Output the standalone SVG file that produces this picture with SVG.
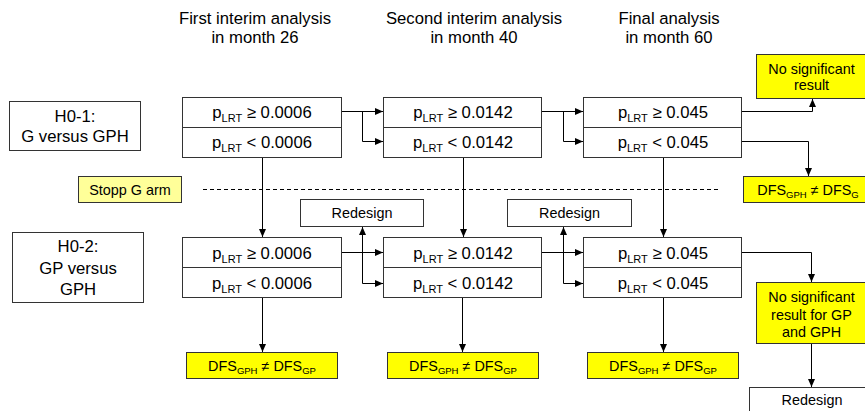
<svg xmlns="http://www.w3.org/2000/svg" width="865" height="411" viewBox="0 0 865 411">
<defs>
<marker id="ah" markerWidth="8" markerHeight="8" refX="8" refY="3.5" orient="auto" markerUnits="userSpaceOnUse">
<path d="M0,0 L8,3.5 L0,7 z" fill="#000"/>
</marker>
<style>
text{font-family:"Liberation Sans",Arial,sans-serif;fill:#000;text-anchor:middle}
.h{font-size:16.7px}
.p{font-size:16.7px}
.s{font-size:14.4px}
.sub{font-size:11px}
.sub2{font-size:9.5px}
.box{fill:#fff;stroke:#333;stroke-width:1}
.yel{fill:#ffff00;stroke:#333;stroke-width:1}
.lyel{fill:#ffff99;stroke:#333;stroke-width:1}
.c{fill:none;stroke:#000;stroke-width:1}
.cm{fill:none;stroke:#000;stroke-width:1;marker-end:url(#ah)}
</style>
</defs>
<rect width="865" height="411" fill="#fff"/>

<g id="headers">
<text class="h" x="255" y="24">First interim analysis</text>
<text class="h" x="255" y="43">in month 26</text>
<text class="h" x="474" y="24">Second interim analysis</text>
<text class="h" x="474" y="43">in month 40</text>
<text class="h" x="669" y="24">Final analysis</text>
<text class="h" x="669" y="43">in month 60</text>
</g>

<g id="h01">
<rect class="box" x="9.5" y="101.5" width="131" height="49"/>
<text class="h" x="75" y="122">H0-1:</text>
<text class="h" x="75" y="141.5">G versus GPH</text>
</g>

<g id="h02">
<rect class="box" x="12.5" y="232.5" width="131" height="70"/>
<text class="h" x="78" y="252">H0-2:</text>
<text class="h" x="78" y="273.5">GP versus</text>
<text class="h" x="78" y="295">GPH</text>
</g>

<g id="stopp">
<rect class="lyel" x="78.5" y="176.5" width="103" height="26"/>
<text class="s" x="130" y="195">Stopp G arm</text>
</g>

<line x1="203" y1="189.5" x2="718" y2="189.5" stroke="#000" stroke-width="1" stroke-dasharray="4,3"/>

<g id="t1">
<rect class="box" x="182.5" y="97.5" width="159" height="30"/>
<rect class="box" x="182.5" y="127.5" width="159" height="30"/>
<text class="p" x="262" y="118">p<tspan class="sub" dy="4">LRT</tspan><tspan dy="-4"> ≥ 0.0006</tspan></text>
<text class="p" x="262" y="148">p<tspan class="sub" dy="4">LRT</tspan><tspan dy="-4"> &lt; 0.0006</tspan></text>
</g>
<g id="t2">
<rect class="box" x="383.5" y="97.5" width="158" height="30"/>
<rect class="box" x="383.5" y="127.5" width="158" height="30"/>
<text class="p" x="463" y="118">p<tspan class="sub" dy="4">LRT</tspan><tspan dy="-4"> ≥ 0.0142</tspan></text>
<text class="p" x="463" y="148">p<tspan class="sub" dy="4">LRT</tspan><tspan dy="-4"> &lt; 0.0142</tspan></text>
</g>
<g id="t3">
<rect class="box" x="583.5" y="97.5" width="158" height="30"/>
<rect class="box" x="583.5" y="127.5" width="158" height="30"/>
<text class="p" x="663" y="118">p<tspan class="sub" dy="4">LRT</tspan><tspan dy="-4"> ≥ 0.045</tspan></text>
<text class="p" x="663" y="148">p<tspan class="sub" dy="4">LRT</tspan><tspan dy="-4"> &lt; 0.045</tspan></text>
</g>

<g id="b1">
<rect class="box" x="182.5" y="237.5" width="159" height="30"/>
<rect class="box" x="182.5" y="267.5" width="159" height="30"/>
<text class="p" x="262" y="259">p<tspan class="sub" dy="4">LRT</tspan><tspan dy="-4"> ≥ 0.0006</tspan></text>
<text class="p" x="262" y="289">p<tspan class="sub" dy="4">LRT</tspan><tspan dy="-4"> &lt; 0.0006</tspan></text>
</g>
<g id="b2">
<rect class="box" x="383.5" y="237.5" width="158" height="30"/>
<rect class="box" x="383.5" y="267.5" width="158" height="30"/>
<text class="p" x="463" y="259">p<tspan class="sub" dy="4">LRT</tspan><tspan dy="-4"> ≥ 0.0142</tspan></text>
<text class="p" x="463" y="289">p<tspan class="sub" dy="4">LRT</tspan><tspan dy="-4"> &lt; 0.0142</tspan></text>
</g>
<g id="b3">
<rect class="box" x="583.5" y="237.5" width="158" height="30"/>
<rect class="box" x="583.5" y="267.5" width="158" height="30"/>
<text class="p" x="663" y="259">p<tspan class="sub" dy="4">LRT</tspan><tspan dy="-4"> ≥ 0.045</tspan></text>
<text class="p" x="663" y="289">p<tspan class="sub" dy="4">LRT</tspan><tspan dy="-4"> &lt; 0.045</tspan></text>
</g>

<g id="redesign1">
<rect class="box" x="300.5" y="199.5" width="123" height="27"/>
<text class="s" x="362" y="218">Redesign</text>
</g>
<g id="redesign2">
<rect class="box" x="507.5" y="199.5" width="124" height="27"/>
<text class="s" x="569.5" y="218">Redesign</text>
</g>
<g id="redesign3">
<rect class="box" x="749.5" y="387.5" width="125" height="30"/>
<text class="s" x="812" y="405">Redesign</text>
</g>

<g id="nosig1">
<rect class="yel" x="756.5" y="54.5" width="110" height="44"/>
<text class="s" x="811.5" y="74">No significant</text>
<text class="s" x="811.5" y="90">result</text>
</g>
<g id="dfsg">
<rect class="yel" x="743.5" y="176.5" width="130" height="26"/>
<text class="s" x="808" y="195">DFS<tspan class="sub2" dy="3">GPH</tspan><tspan dy="-3"> ≠ DFS</tspan><tspan class="sub2" dy="3">G</tspan></text>
</g>
<g id="nosig2">
<rect class="yel" x="756.5" y="282.5" width="111" height="61"/>
<text class="s" x="811.5" y="302">No significant</text>
<text class="s" x="811.5" y="319.5">result for GP</text>
<text class="s" x="811.5" y="337">and GPH</text>
</g>
<g id="dfs1">
<rect class="yel" x="186.5" y="352.5" width="151" height="26"/>
<text class="s" x="262" y="371">DFS<tspan class="sub2" dy="3">GPH</tspan><tspan dy="-3"> ≠ DFS</tspan><tspan class="sub2" dy="3">GP</tspan></text>
</g>
<g id="dfs2">
<rect class="yel" x="387.5" y="352.5" width="151" height="26"/>
<text class="s" x="463" y="371">DFS<tspan class="sub2" dy="3">GPH</tspan><tspan dy="-3"> ≠ DFS</tspan><tspan class="sub2" dy="3">GP</tspan></text>
</g>
<g id="dfs3">
<rect class="yel" x="587.5" y="352.5" width="151" height="26"/>
<text class="s" x="663" y="371">DFS<tspan class="sub2" dy="3">GPH</tspan><tspan dy="-3"> ≠ DFS</tspan><tspan class="sub2" dy="3">GP</tspan></text>
</g>

<g id="connectors">
<path class="cm" d="M342 111.5 H383"/>
<path class="cm" d="M362.5 111.5 V141.5 H383"/>
<path class="cm" d="M542 111.5 H583"/>
<path class="cm" d="M563.5 111.5 V141.5 H583"/>
<path class="cm" d="M742 111.5 H812.5 V99"/>
<path class="cm" d="M742 141.5 H808.5 V176"/>
<path class="cm" d="M262.5 158 V237"/>
<path class="cm" d="M463.5 158 V237"/>
<path class="cm" d="M663.5 158 V237"/>
<path class="cm" d="M342 252.5 H383"/>
<path class="cm" d="M362.5 283.5 H383"/>
<path class="cm" d="M362.5 283.5 V227"/>
<path class="cm" d="M542 252.5 H583"/>
<path class="cm" d="M563.5 283.5 H583"/>
<path class="cm" d="M563.5 283.5 V227"/>
<path class="cm" d="M742 252.5 H811.5 V282"/>
<path class="cm" d="M262.5 298 V352"/>
<path class="cm" d="M462.5 298 V352"/>
<path class="cm" d="M663.5 298 V352"/>
<path class="cm" d="M811.5 344 V387"/>
</g>
</svg>
